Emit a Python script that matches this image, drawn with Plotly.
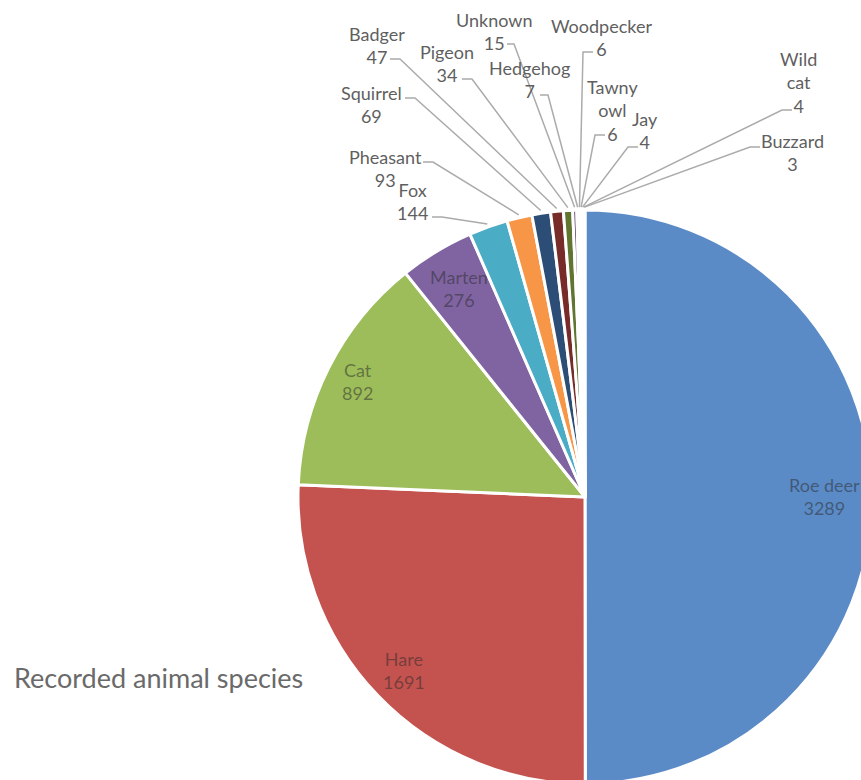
import math
import plotly.graph_objects as go

# ---------------- data ----------------
species = ["Roe deer", "Hare", "Cat", "Marten", "Fox", "Pheasant", "Squirrel",
           "Badger", "Pigeon", "Unknown", "Hedgehog", "Woodpecker", "Tawny owl",
           "Jay", "Wild cat", "Buzzard"]
counts = [3289, 1691, 892, 276, 144, 93, 69, 47, 34, 15, 7, 6, 6, 4, 4, 3]
label_names = ["Roe deer", "Hare", "Cat", "Marten", "Fox", "Pheasant", "Squirrel",
               "Badger", "Pigeon", "Unknown", "Hedgehog", "Woodpecker", "Tawny<br>owl",
               "Jay", "Wild<br>cat", "Buzzard"]
colors = ["#5B8BC6", "#C4534F", "#9DBD5A", "#8064A2", "#4BACC6", "#F79646",
          "#2C4D75", "#772C2A", "#5F7530", "#4D3B62", "#276A7C", "#B65708",
          "#729ACA", "#CD7371", "#AFC97A", "#9983B5"]
title_text = "Recorded animal species"

# ---------------- layout constants ----------------
W, H = 880, 790
CX, CY, R = 585, 497, 287

# inside label radius fractions
inside_r = {"Roe deer": 0.833, "Hare": 0.875, "Cat": 0.89, "Marten": 0.85}
# outside labels: centre of text block, leader (x start, x end, y)
outside = {
    "Fox":        (412, 201.5, 432, 442, 217),
    "Pheasant":   (385, 168.0, 423, 433, 162),
    "Squirrel":   (371, 104.5, 405, 415, 98),
    "Badger":     (377, 45.5, 390, 400, 59),
    "Pigeon":     (447, 63.0, 462, 472, 79),
    "Unknown":    (494, 31.5, 507, 514, 44),
    "Hedgehog":   (529, 79.5, 540, 548, 95),
    "Woodpecker": (601, 37.5, 593, 583, 52),
    "Tawny owl":  (612, 110.0, 605, 595, 135),
    "Jay":        (645, 130.0, 638, 628, 147),
    "Wild cat":   (798, 82.0, 792, 782, 110),
    "Buzzard":    (792, 152.5, 760, 750, 147),
}

total = sum(counts)
mid_angles = []
cum = 0
for c in counts:
    mid_angles.append(2 * math.pi * (cum + c / 2) / total)
    cum += c


def pt(theta, r):
    return CX + r * math.sin(theta), CY - r * math.cos(theta)


fig = go.Figure()

fig.add_trace(go.Pie(
    labels=species, values=counts, sort=False, direction="clockwise",
    rotation=0, textinfo="none", hoverinfo="label+value",
    marker=dict(colors=colors, line=dict(color="white", width=3)),
    domain=dict(x=[(CX - R) / W, (CX + R) / W],
                y=[(H - CY - R) / H, (H - CY + R) / H]),
    showlegend=False,
))

lx, ly = [], []
annotations = []
for i, name in enumerate(species):
    text = f"{label_names[i]}<br>{counts[i]}"
    if name in inside_r:
        x, y = pt(mid_angles[i], inside_r[name] * R)
        annotations.append(dict(x=x, y=y, xref="x", yref="y", text=text,
                                showarrow=False, xanchor="center", yanchor="middle",
                                font=dict(family="Lato", size=18,
                                          color="rgba(40,40,40,0.5)")))
    else:
        tx, ty, x0, x1, yl = outside[name]
        ex, ey = pt(mid_angles[i], R * 1.01)
        lx += [x0, x1, ex, None]
        ly += [yl, yl, ey, None]
        annotations.append(dict(x=tx, y=ty, xref="x", yref="y", text=text,
                                showarrow=False, xanchor="center", yanchor="middle",
                                font=dict(family="Lato", size=18, color="#5f5f5f")))

fig.add_trace(go.Scatter(x=lx, y=ly, mode="lines", hoverinfo="skip",
                         line=dict(color="#ABABAB", width=1.5), showlegend=False))

annotations.append(dict(x=12, y=677, xref="x", yref="y", text=title_text,
                        showarrow=False, xanchor="left", yanchor="middle",
                        font=dict(family="Lato", size=27, color="#6a6a6a")))

fig.update_layout(
    width=W, height=H, margin=dict(l=0, r=0, t=0, b=0, pad=0),
    paper_bgcolor="white", plot_bgcolor="white",
    xaxis=dict(range=[0, W], visible=False, fixedrange=True),
    yaxis=dict(range=[H, 0], visible=False, fixedrange=True),
    annotations=annotations, showlegend=False,
)

fig.write_html("out.html", config={"displayModeBar": False},
               post_script="document.documentElement.style.overflow='hidden';"
                           "document.body.style.overflow='hidden';")
